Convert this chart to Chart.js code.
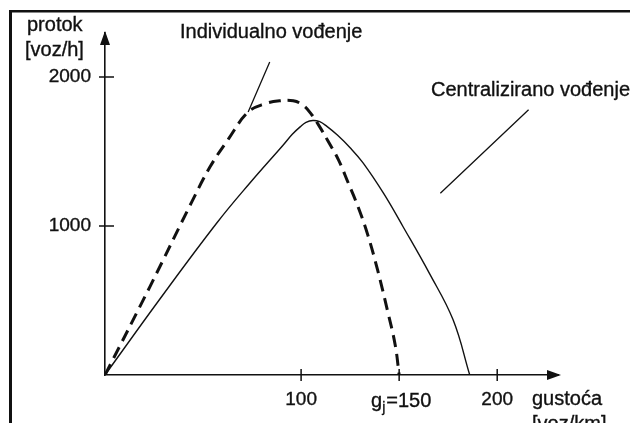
<!DOCTYPE html>
<html>
<head>
<meta charset="utf-8">
<script src="https://cdn.jsdelivr.net/npm/chart.js@4.4.1/dist/chart.umd.min.js"></script>
<style>
    html, body { margin: 0; padding: 0; background: #fff; }
    #wrap { width: 630px; height: 423px; position: relative; }
</style>
</head>
<body>
<div id="wrap"><canvas id="flowChart"></canvas></div>
<script>
// gustoća [voz/km] -> protok [voz/h], očitano sa slike
const individualG = [0, 23, 44, 53.5, 63, 73, 81.5, 89, 96, 101, 105.5, 109.5, 113.5, 119, 124, 129, 134, 139, 144, 148, 150];
const individualQ = [0, 595, 1155, 1395, 1585, 1765, 1820, 1840, 1840, 1810, 1745, 1665, 1575, 1445, 1290, 1130, 940, 705, 435, 200, 0];

const centralG = [0, 28, 57, 74, 91, 95.5, 99.5, 102.5, 106, 109.5, 113, 118.5, 125, 131.5, 142, 152, 165.5, 177.5, 186];
const centralQ = [0, 510, 1020, 1290, 1545, 1615, 1665, 1695, 1708, 1700, 1670, 1610, 1525, 1425, 1220, 995, 680, 370, 0];

const xTicks = [100, 150, 200];
const yTicks = [1000, 2000];
const xMax = 231;
const yMax = 2295;

// pokazne linije za natpise (u jedinicama osi)
const individualLeader = [[84, 2100], [73, 1765]];
const centralLeader = [[216, 1780], [171, 1220]];

const FONT = "'Liberation Sans', Arial, sans-serif";
const INK = '#111';

const toPoints = (gs, qs) => gs.map((g, i) => ({ x: g, y: qs[i] }));

// okvir, strelice, crtice na osima i natpisi
const sketchDecor = {
    id: 'sketchDecor',
    beforeDraw(chart) {
        const ctx = chart.ctx;
        ctx.save();
        ctx.fillStyle = '#fff';
        ctx.fillRect(0, 0, chart.width, chart.height);
        ctx.fillStyle = INK;
        ctx.fillRect(9, 10, 3, chart.height - 10);
        ctx.fillRect(9, 10, chart.width - 9, 2.5);
        ctx.restore();
    },
    afterDraw(chart) {
        const ctx = chart.ctx;
        const xs = chart.scales.x;
        const ys = chart.scales.y;
        const area = chart.chartArea;
        ctx.save();
        ctx.fillStyle = INK;
        ctx.strokeStyle = INK;

        // strelice
        ctx.beginPath();
        ctx.moveTo(area.left, area.top - 2);
        ctx.lineTo(area.left - 5, area.top + 12);
        ctx.lineTo(area.left + 5, area.top + 12);
        ctx.closePath();
        ctx.fill();
        ctx.beginPath();
        ctx.moveTo(area.right + 3, area.bottom);
        ctx.lineTo(area.right - 11, area.bottom - 5);
        ctx.lineTo(area.right - 11, area.bottom + 5);
        ctx.closePath();
        ctx.fill();

        // crtice
        ctx.lineWidth = 1.5;
        ctx.beginPath();
        yTicks.forEach(v => {
            const y = ys.getPixelForValue(v);
            ctx.moveTo(area.left - 6, y);
            ctx.lineTo(area.left + 9, y);
        });
        xTicks.forEach(v => {
            const x = xs.getPixelForValue(v);
            ctx.moveTo(x, area.bottom - 6);
            ctx.lineTo(x, area.bottom + 6);
        });
        ctx.stroke();

        // pokazne linije
        ctx.lineWidth = 1.3;
        ctx.beginPath();
        [individualLeader, centralLeader].forEach(([a, b]) => {
            ctx.moveTo(xs.getPixelForValue(a[0]), ys.getPixelForValue(a[1]));
            ctx.lineTo(xs.getPixelForValue(b[0]), ys.getPixelForValue(b[1]));
        });
        ctx.stroke();

        // natpisi
        const label = (txt, x, y) => {
            ctx.fillText(txt, x, y);
            ctx.strokeText(txt, x, y);
        };
        ctx.lineWidth = 0.35;
        ctx.font = '20px ' + FONT;
        ctx.textBaseline = 'alphabetic';
        ctx.textAlign = 'left';
        label('protok', 27, 31);
        label('[voz/h]', 25, 56);
        label('Individualno vođenje', 180, 38);
        label('Centralizirano vođenje', 431, 96);
        label('gustoća', 532, 405);
        label('[voz/km]', 532, 430);

        // g_j=150 s indeksom
        const cx = xs.getPixelForValue(150) + 2;
        const base = 407;
        const big = '20px ' + FONT;
        const small = '14px ' + FONT;
        ctx.font = big;
        const wg = ctx.measureText('g').width;
        const wr = ctx.measureText('=150').width;
        ctx.font = small;
        const wj = ctx.measureText('j').width + 1;
        const x0 = cx - (wg + wj + wr) / 2;
        ctx.font = big;
        label('g', x0, base);
        ctx.font = small;
        label('j', x0 + wg, base + 5);
        ctx.font = big;
        label('=150', x0 + wg + wj, base);
        ctx.restore();
    }
};

const tickStyle = {
    color: INK,
    autoSkip: false,
    maxRotation: 0,
    textStrokeColor: INK,
    textStrokeWidth: 0.35,
    font: { size: 19, family: FONT }
};

new Chart(document.getElementById('flowChart'), {
    type: 'line',
    data: {
        datasets: [
            {
                label: 'Centralizirano vođenje',
                data: toPoints(centralG, centralQ),
                borderColor: INK,
                borderWidth: 1.4,
                fill: false,
                tension: 0.4
            },
            {
                label: 'Individualno vođenje',
                data: toPoints(individualG, individualQ),
                borderColor: INK,
                borderWidth: 3,
                borderDash: [12, 7],
                fill: false,
                tension: 0.4
            }
        ]
    },
    options: {
        responsive: true,
        maintainAspectRatio: false,
        animation: false,
        events: [],
        layout: { padding: { top: 33, right: 72, left: 0, bottom: 0 } },
        elements: { point: { radius: 0 } },
        plugins: {
            legend: { display: false },
            tooltip: { enabled: false }
        },
        scales: {
            x: {
                type: 'linear',
                min: 0,
                max: xMax,
                grid: { display: false, drawTicks: false },
                border: { display: true, color: INK, width: 1.6 },
                ticks: {
                    ...tickStyle,
                    padding: 13,
                    callback: v => (v === 150 ? '' : String(v))
                },
                afterBuildTicks: s => { s.ticks = xTicks.map(v => ({ value: v })); },
                afterFit: s => { s.height = 48; }
            },
            y: {
                type: 'linear',
                min: 0,
                max: yMax,
                grid: { display: false, drawTicks: false },
                border: { display: true, color: INK, width: 1.6 },
                ticks: {
                    ...tickStyle,
                    padding: 14,
                    callback: v => String(v)
                },
                afterBuildTicks: s => { s.ticks = yTicks.map(v => ({ value: v })); },
                afterFit: s => { s.width = 105; }
            }
        }
    },
    plugins: [sketchDecor]
});
</script>
</body>
</html>
